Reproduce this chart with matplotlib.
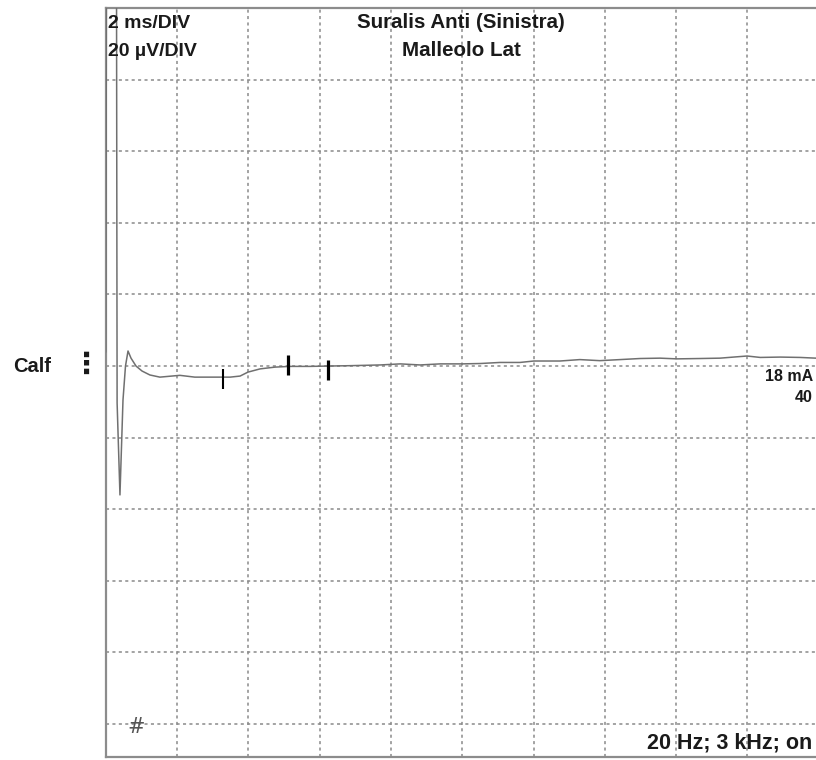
import matplotlib
matplotlib.use("Agg")
import matplotlib.pyplot as plt
import numpy as np

# trace: time (ms) and amplitude (uV)
t_ms = [0.00, 0.04, 0.29, 0.32, 0.40, 0.485, 0.555, 0.626, 0.71, 0.85,
        1.02, 1.24, 1.52, 2.08, 2.50, 2.93, 3.49, 3.77, 3.99, 4.33,
        4.75, 5.17, 5.73, 6.29, 6.86, 7.70, 8.26, 8.82, 9.38, 10.0,
        10.5, 11.06, 11.62, 12.01, 12.74, 13.3, 13.86, 14.43, 14.99, 15.55,
        16.02, 16.68, 17.23, 17.99, 18.36, 18.92, 19.48, 19.92, 20.0]
amp_uv = [4.0, 200.0, 200.0, -10.3, -36.0, -9.5, 0.0, 4.2, 2.2, 0.0,
          -1.4, -2.5, -3.1, -2.6, -3.1, -3.1, -3.1, -2.8, -1.7, -0.8,
          -0.3, -0.1, -0.1, 0.0, 0.1, 0.3, 0.6, 0.3, 0.6, 0.6,
          0.7, 1.0, 1.0, 1.4, 1.4, 1.8, 1.5, 1.8, 2.1, 2.2,
          2.0, 2.1, 2.2, 2.8, 2.4, 2.5, 2.4, 2.2, 2.2]

# cursor marks
cursor_t = [3.30, 5.12, 6.23]
cursor_v = [-3.6, 0.3, -1.2]
cursor_w = [1.5, 2.3, 2.3]

ms_per_div = 2
uv_per_div = 20

W, H = 816, 760
fig = plt.figure(figsize=(W / 100, H / 100), dpi=100)

def fx(px):
    return px / W

def fy(py):
    return 1 - py / H

# axes: left edge at 105.7 px, 71.3 px per ms-division; top 8 px, bottom 757 px
ax = fig.add_axes([fx(105.7), fy(757), (71.3 * 10) / W, (757 - 8) / H])
ax.set_xlim(0, 10 * ms_per_div)
ax.set_ylim(-109.2, 100)

ax.plot(t_ms, amp_uv, color="#707070", lw=1.1, zorder=3)
for ct, cv, cw in zip(cursor_t, cursor_v, cursor_w):
    ax.plot([ct], [cv], marker="|", color="black", markersize=14.4, mew=cw, zorder=4)

ax.set_xticks(np.arange(0, 20.1, ms_per_div))
ax.set_yticks(np.arange(-100, 100.1, uv_per_div))
ax.grid(True, color="#8a8a8a", lw=1.1, ls=(0, (2, 2.2)))
ax.tick_params(length=0, labelbottom=False, labelleft=False)
for s in ax.spines.values():
    s.set_color("#8c8c8c")
    s.set_linewidth(1.6)

fnt = dict(family="Liberation Sans", weight="bold", color="#1a1a1a")
fig.text(fx(108), fy(23), "2 ms/DIV", fontsize=14, va="center", ha="left", **fnt)
fig.text(fx(108), fy(52), "20 µV/DIV", fontsize=14, va="center", ha="left", **fnt)
fig.text(fx(461), fy(23), "Suralis Anti (Sinistra)", fontsize=14.8, va="center", ha="center", **fnt)
fig.text(fx(461), fy(51), "Malleolo Lat", fontsize=14.8, va="center", ha="center", **fnt)
fig.text(fx(13), fy(366), "Calf", fontsize=14.5, va="center", ha="left", **fnt)
fig.text(fx(87), fy(365), "⋮", fontsize=21, va="center", ha="center",
         family="DejaVu Sans", weight="bold", color="#1a1a1a")
fig.text(fx(813), fy(377), "18 mA", fontsize=11.5, va="center", ha="right", **fnt)
fig.text(fx(813), fy(397), "40", fontsize=11.5, va="center", ha="right", **fnt)
fig.text(fx(812), fy(743), "20 Hz; 3 kHz; on", fontsize=15.5, va="center", ha="right", **fnt)
fig.text(fx(136), fy(727), "#", fontsize=15, va="center", ha="center",
         family="DejaVu Sans", color="#555555")

fig.savefig("out.png", dpi=100)
